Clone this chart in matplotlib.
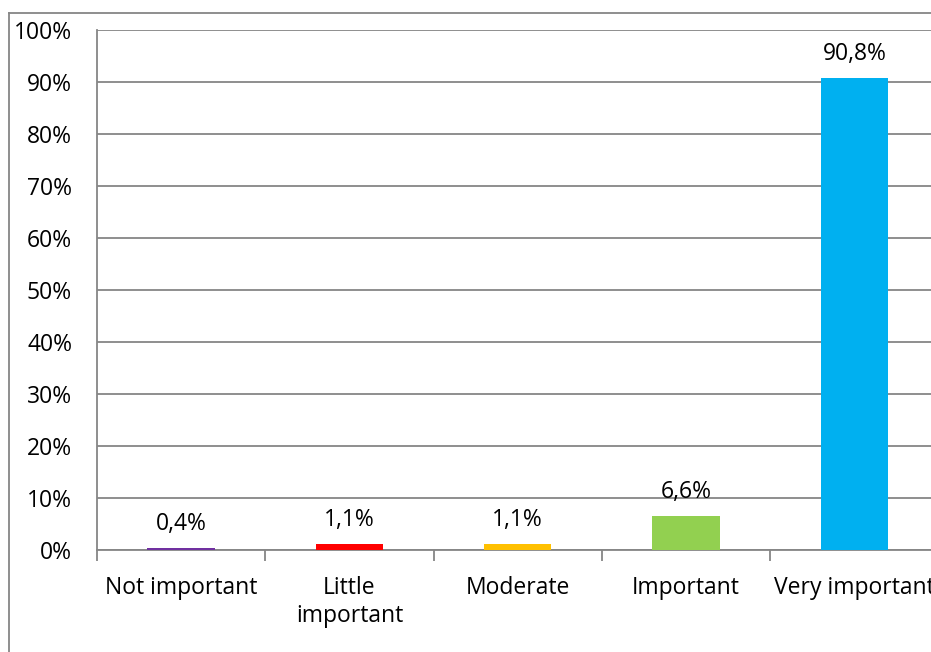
#!/usr/bin/env python3
""" Bar chart: importance ratings as percentage of respondents. """

import matplotlib
matplotlib.use("Agg")
import matplotlib.pyplot as plt
from matplotlib.lines import Line2D

categories = ["Not important", "Little\nimportant", "Moderate", "Important", "Very important"]
values = [0.4, 1.1, 1.1, 6.6, 90.8]
value_labels = ["0,4%", "1,1%", "1,1%", "6,6%", "90,8%"]
colors = ["#7030A0", "#FF0000", "#FFC000", "#92D050", "#00B0F0"]
yticks = list(range(0, 101, 10))

plt.rcParams["font.family"] = ["Open Sans", "DejaVu Sans"]
W, H = 931, 652
fs = 16.5
fig = plt.figure(figsize=(W / 100, H / 100), dpi=100)
ax = fig.add_axes([97 / W, (H - 550) / H, 841.5 / W, 520 / H])

grey = "#868686"
ax.bar(range(len(values)), values, width=0.4, color=colors, zorder=3)
for i, (v, lab) in enumerate(zip(values, value_labels)):
    ax.annotate(lab, (i, v), xytext=(0, 8.5), textcoords="offset points",
                ha="center", va="bottom", fontsize=fs, color="#000000")

ax.set_xlim(-0.5, len(values) - 0.5)
ax.set_ylim(0, 100)
ax.set_yticks(yticks)
ax.set_yticklabels([f"{t}%" for t in yticks], fontsize=fs)
ax.tick_params(axis="y", length=0, pad=18)
ax.yaxis.grid(True, color=grey, linewidth=1.3, zorder=0)

ax.set_xticks(range(len(values)))
ax.set_xticklabels(categories, fontsize=fs, linespacing=1.22)
ax.set_xticks([i - 0.5 for i in range(len(values) + 1)], minor=True)
ax.tick_params(axis="x", which="major", length=0, pad=18.5)
ax.tick_params(axis="x", which="minor", length=8, color=grey, width=1.3)

for side in ["top", "right"]:
    ax.spines[side].set_visible(False)
for side in ["left", "bottom"]:
    ax.spines[side].set_color(grey)
    ax.spines[side].set_linewidth(1.3)

# outer chart border (only left and top edges fall inside the image)
fig.add_artist(Line2D([8.5 / W, 8.5 / W], [0, (H - 13) / H], color=grey, linewidth=1.3))
fig.add_artist(Line2D([8.5 / W, 1], [(H - 13) / H, (H - 13) / H], color=grey, linewidth=1.3))

fig.savefig("out.png", dpi=100)
